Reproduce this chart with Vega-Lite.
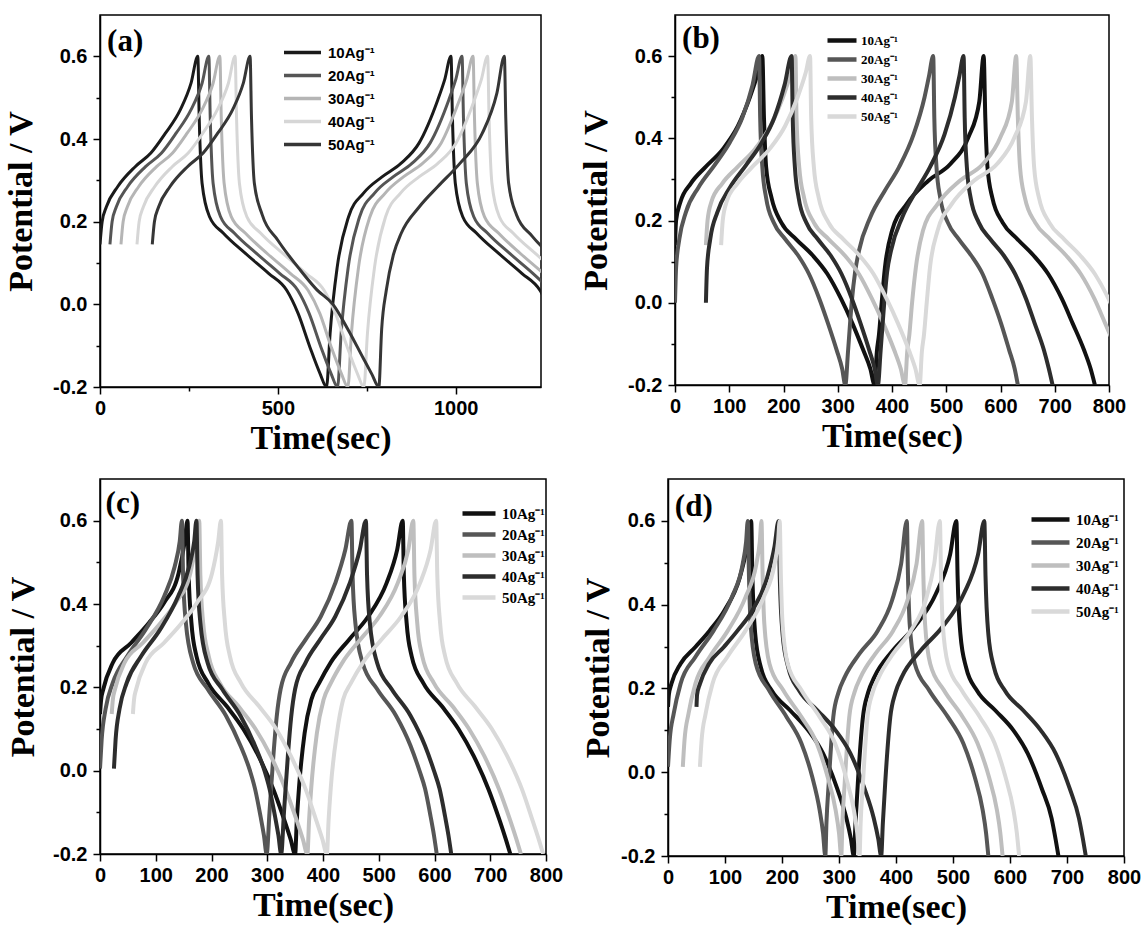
{
"$schema": "https://vega.github.io/schema/vega-lite/v6.json",
"background": "white",
"padding": {"left": 3, "top": 14, "right": 0, "bottom": 0},
"config": {
  "view": {"stroke": "black", "strokeWidth": 1.5},
  "axis": {"grid": false, "domainColor": "black", "domainWidth": 1.5, "tickColor": "black", "tickWidth": 1.5,
           "labelFont": "Liberation Sans", "labelFontWeight": "bold", "labelFontSize": 20, "labelColor": "black",
           "titleFont": "Liberation Serif", "titleFontWeight": "bold", "titleFontSize": 34, "titleColor": "black",
           "labelOverlap": false, "labelFlush": false},
  "axisX": {"labelPadding": 4, "titlePadding": 3},
  "axisY": {"labelPadding": 6, "titlePadding": 14}
},
"datasets": {
"a": [
{"s":10,"t":0,"v":0.145},{"s":10,"t":6,"v":0.2},{"s":10,"t":18,"v":0.236},{"s":10,"t":50,"v":0.285},{"s":10,"t":99,"v":0.333},{"s":10,"t":143,"v":0.366},{"s":10,"t":184,"v":0.414},{"s":10,"t":226,"v":0.471},{"s":10,"t":256,"v":0.535},{"s":10,"t":275,"v":0.6},
{"s":10,"t":279,"v":0.45},{"s":10,"t":287,"v":0.293},{"s":10,"t":308,"v":0.212},{"s":10,"t":347,"v":0.172},{"s":10,"t":409,"v":0.123},{"s":10,"t":474,"v":0.075},{"s":10,"t":525,"v":0.034},{"s":10,"t":557,"v":-0.022},{"s":10,"t":590,"v":-0.103},{"s":10,"t":619,"v":-0.168},{"s":10,"t":637,"v":-0.2},
{"s":10,"t":647,"v":-0.07},{"s":10,"t":667,"v":0.09},{"s":10,"t":699,"v":0.212},{"s":10,"t":741,"v":0.269},{"s":10,"t":794,"v":0.309},{"s":10,"t":846,"v":0.341},{"s":10,"t":897,"v":0.39},{"s":10,"t":950,"v":0.495},{"s":10,"t":969,"v":0.543},{"s":10,"t":987,"v":0.6},
{"s":10,"t":991,"v":0.45},{"s":10,"t":999,"v":0.293},{"s":10,"t":1020,"v":0.212},{"s":10,"t":1059,"v":0.172},{"s":10,"t":1121,"v":0.123},{"s":10,"t":1186,"v":0.075},{"s":10,"t":1237,"v":0.034},{"s":10,"t":1269,"v":-0.022},
{"s":20,"t":28,"v":0.145},{"s":20,"t":34,"v":0.2},{"s":20,"t":46,"v":0.236},{"s":20,"t":78,"v":0.285},{"s":20,"t":128,"v":0.333},{"s":20,"t":173,"v":0.366},{"s":20,"t":214,"v":0.414},{"s":20,"t":256,"v":0.471},{"s":20,"t":287,"v":0.535},{"s":20,"t":306,"v":0.6},
{"s":20,"t":310,"v":0.45},{"s":20,"t":318,"v":0.293},{"s":20,"t":339,"v":0.212},{"s":20,"t":378,"v":0.172},{"s":20,"t":440,"v":0.123},{"s":20,"t":505,"v":0.075},{"s":20,"t":556,"v":0.034},{"s":20,"t":588,"v":-0.022},{"s":20,"t":621,"v":-0.103},{"s":20,"t":650,"v":-0.168},{"s":20,"t":668,"v":-0.2},
{"s":20,"t":678,"v":-0.07},{"s":20,"t":698,"v":0.09},{"s":20,"t":730,"v":0.212},{"s":20,"t":772,"v":0.269},{"s":20,"t":825,"v":0.309},{"s":20,"t":877,"v":0.341},{"s":20,"t":928,"v":0.39},{"s":20,"t":981,"v":0.495},{"s":20,"t":1000,"v":0.543},{"s":20,"t":1018,"v":0.6},
{"s":20,"t":1022,"v":0.45},{"s":20,"t":1030,"v":0.293},{"s":20,"t":1051,"v":0.212},{"s":20,"t":1090,"v":0.172},{"s":20,"t":1152,"v":0.123},{"s":20,"t":1217,"v":0.075},{"s":20,"t":1268,"v":0.034},
{"s":30,"t":59,"v":0.145},{"s":30,"t":65,"v":0.2},{"s":30,"t":77,"v":0.236},{"s":30,"t":109,"v":0.285},{"s":30,"t":159,"v":0.333},{"s":30,"t":204,"v":0.366},{"s":30,"t":245,"v":0.414},{"s":30,"t":287,"v":0.471},{"s":30,"t":318,"v":0.535},{"s":30,"t":337,"v":0.6},
{"s":30,"t":341,"v":0.45},{"s":30,"t":349,"v":0.293},{"s":30,"t":369,"v":0.212},{"s":30,"t":409,"v":0.172},{"s":30,"t":470,"v":0.123},{"s":30,"t":535,"v":0.075},{"s":30,"t":585,"v":0.034},{"s":30,"t":618,"v":-0.022},{"s":30,"t":650,"v":-0.103},{"s":30,"t":679,"v":-0.168},{"s":30,"t":697,"v":-0.2},
{"s":30,"t":707,"v":-0.07},{"s":30,"t":727,"v":0.09},{"s":30,"t":759,"v":0.212},{"s":30,"t":802,"v":0.269},{"s":30,"t":854,"v":0.309},{"s":30,"t":907,"v":0.341},{"s":30,"t":959,"v":0.39},{"s":30,"t":1011,"v":0.495},{"s":30,"t":1031,"v":0.543},{"s":30,"t":1049,"v":0.6},
{"s":30,"t":1053,"v":0.45},{"s":30,"t":1061,"v":0.293},{"s":30,"t":1081,"v":0.212},{"s":30,"t":1121,"v":0.172},{"s":30,"t":1182,"v":0.123},{"s":30,"t":1247,"v":0.075},
{"s":40,"t":104,"v":0.145},{"s":40,"t":110,"v":0.2},{"s":40,"t":122,"v":0.236},{"s":40,"t":154,"v":0.285},{"s":40,"t":203,"v":0.333},{"s":40,"t":248,"v":0.366},{"s":40,"t":289,"v":0.414},{"s":40,"t":330,"v":0.471},{"s":40,"t":361,"v":0.535},{"s":40,"t":380,"v":0.6},
{"s":40,"t":384,"v":0.45},{"s":40,"t":392,"v":0.293},{"s":40,"t":413,"v":0.212},{"s":40,"t":452,"v":0.172},{"s":40,"t":514,"v":0.123},{"s":40,"t":579,"v":0.075},{"s":40,"t":630,"v":0.034},{"s":40,"t":662,"v":-0.022},{"s":40,"t":695,"v":-0.103},{"s":40,"t":724,"v":-0.168},{"s":40,"t":742,"v":-0.2},
{"s":40,"t":752,"v":-0.07},{"s":40,"t":772,"v":0.09},{"s":40,"t":803,"v":0.212},{"s":40,"t":845,"v":0.269},{"s":40,"t":898,"v":0.309},{"s":40,"t":950,"v":0.341},{"s":40,"t":1001,"v":0.39},{"s":40,"t":1053,"v":0.495},{"s":40,"t":1072,"v":0.543},{"s":40,"t":1090,"v":0.6},
{"s":40,"t":1094,"v":0.45},{"s":40,"t":1102,"v":0.293},{"s":40,"t":1123,"v":0.212},{"s":40,"t":1162,"v":0.172},{"s":40,"t":1224,"v":0.123},{"s":40,"t":1289,"v":0.075},
{"s":50,"t":147,"v":0.145},{"s":50,"t":153,"v":0.2},{"s":50,"t":165,"v":0.236},{"s":50,"t":197,"v":0.285},{"s":50,"t":246,"v":0.333},{"s":50,"t":290,"v":0.366},{"s":50,"t":331,"v":0.414},{"s":50,"t":373,"v":0.471},{"s":50,"t":403,"v":0.535},{"s":50,"t":422,"v":0.6},
{"s":50,"t":426,"v":0.45},{"s":50,"t":434,"v":0.293},{"s":50,"t":456,"v":0.217},{"s":50,"t":500,"v":0.155},{"s":50,"t":563,"v":0.083},{"s":50,"t":610,"v":0.035},{"s":50,"t":655,"v":0},{"s":50,"t":700,"v":-0.065},{"s":50,"t":740,"v":-0.13},{"s":50,"t":765,"v":-0.17},{"s":50,"t":784,"v":-0.2},
{"s":50,"t":792,"v":-0.06},{"s":50,"t":805,"v":0.034},{"s":50,"t":825,"v":0.12},{"s":50,"t":847,"v":0.172},{"s":50,"t":898,"v":0.236},{"s":50,"t":950,"v":0.285},{"s":50,"t":1012,"v":0.341},{"s":50,"t":1075,"v":0.414},{"s":50,"t":1116,"v":0.511},{"s":50,"t":1137,"v":0.6},
{"s":50,"t":1141,"v":0.45},{"s":50,"t":1149,"v":0.293},{"s":50,"t":1171,"v":0.217},{"s":50,"t":1215,"v":0.165},{"s":50,"t":1278,"v":0.11}
],
"b": [
{"s":10,"t":0,"v":0.14},{"s":10,"t":2,"v":0.2},{"s":10,"t":10,"v":0.245},{"s":10,"t":29,"v":0.29},{"s":10,"t":56,"v":0.33},{"s":10,"t":89,"v":0.375},{"s":10,"t":116,"v":0.43},{"s":10,"t":138,"v":0.5},{"s":10,"t":153,"v":0.56},{"s":10,"t":161,"v":0.6},
{"s":10,"t":164,"v":0.45},{"s":10,"t":168,"v":0.33},{"s":10,"t":178,"v":0.255},{"s":10,"t":196,"v":0.195},{"s":10,"t":223,"v":0.155},{"s":10,"t":254,"v":0.115},{"s":10,"t":281,"v":0.07},{"s":10,"t":306,"v":0.01},{"s":10,"t":327,"v":-0.05},{"s":10,"t":347,"v":-0.115},{"s":10,"t":360,"v":-0.16},{"s":10,"t":368,"v":-0.2},
{"s":10,"t":372,"v":-0.12},{"s":10,"t":376,"v":-0.077},{"s":10,"t":381,"v":0},{"s":10,"t":387,"v":0.086},{"s":10,"t":400,"v":0.175},{"s":10,"t":427,"v":0.24},{"s":10,"t":467,"v":0.297},{"s":10,"t":508,"v":0.338},{"s":10,"t":541,"v":0.403},{"s":10,"t":561,"v":0.49},{"s":10,"t":569,"v":0.6},
{"s":10,"t":572,"v":0.45},{"s":10,"t":576,"v":0.33},{"s":10,"t":585,"v":0.255},{"s":10,"t":604,"v":0.195},{"s":10,"t":631,"v":0.155},{"s":10,"t":661,"v":0.115},{"s":10,"t":688,"v":0.07},{"s":10,"t":713,"v":0.01},{"s":10,"t":733,"v":-0.05},{"s":10,"t":754,"v":-0.115},{"s":10,"t":766,"v":-0.16},{"s":10,"t":774,"v":-0.2},
{"s":20,"t":0,"v":0},{"s":20,"t":2,"v":0.085},{"s":20,"t":8,"v":0.155},{"s":20,"t":20,"v":0.22},{"s":20,"t":43,"v":0.28},{"s":20,"t":73,"v":0.335},{"s":20,"t":101,"v":0.39},{"s":20,"t":124,"v":0.45},{"s":20,"t":143,"v":0.53},{"s":20,"t":155,"v":0.6},
{"s":20,"t":157,"v":0.45},{"s":20,"t":161,"v":0.33},{"s":20,"t":168,"v":0.255},{"s":20,"t":182,"v":0.195},{"s":20,"t":203,"v":0.155},{"s":20,"t":227,"v":0.115},{"s":20,"t":247,"v":0.07},{"s":20,"t":266,"v":0.01},{"s":20,"t":282,"v":-0.05},{"s":20,"t":298,"v":-0.115},{"s":20,"t":308,"v":-0.16},{"s":20,"t":314,"v":-0.2},
{"s":20,"t":319,"v":-0.117},{"s":20,"t":326,"v":0.005},{"s":20,"t":332,"v":0.075},{"s":20,"t":339,"v":0.126},{"s":20,"t":360,"v":0.208},{"s":20,"t":387,"v":0.273},{"s":20,"t":413,"v":0.33},{"s":20,"t":440,"v":0.41},{"s":20,"t":460,"v":0.5},{"s":20,"t":468,"v":0.55},{"s":20,"t":476,"v":0.6},
{"s":20,"t":478,"v":0.45},{"s":20,"t":482,"v":0.33},{"s":20,"t":489,"v":0.255},{"s":20,"t":503,"v":0.195},{"s":20,"t":523,"v":0.155},{"s":20,"t":546,"v":0.115},{"s":20,"t":567,"v":0.07},{"s":20,"t":585,"v":0.01},{"s":20,"t":601,"v":-0.05},{"s":20,"t":616,"v":-0.115},{"s":20,"t":626,"v":-0.16},{"s":20,"t":632,"v":-0.2},
{"s":30,"t":57,"v":0.14},{"s":30,"t":60,"v":0.2},{"s":30,"t":67,"v":0.245},{"s":30,"t":87,"v":0.29},{"s":30,"t":115,"v":0.33},{"s":30,"t":148,"v":0.375},{"s":30,"t":176,"v":0.43},{"s":30,"t":199,"v":0.5},{"s":30,"t":214,"v":0.56},{"s":30,"t":222,"v":0.6},
{"s":30,"t":224,"v":0.45},{"s":30,"t":229,"v":0.33},{"s":30,"t":238,"v":0.255},{"s":30,"t":256,"v":0.195},{"s":30,"t":283,"v":0.155},{"s":30,"t":313,"v":0.115},{"s":30,"t":339,"v":0.07},{"s":30,"t":363,"v":0.01},{"s":30,"t":384,"v":-0.05},{"s":30,"t":404,"v":-0.115},{"s":30,"t":416,"v":-0.16},{"s":30,"t":424,"v":-0.2},
{"s":30,"t":428,"v":-0.12},{"s":30,"t":432,"v":-0.077},{"s":30,"t":437,"v":0},{"s":30,"t":444,"v":0.086},{"s":30,"t":457,"v":0.175},{"s":30,"t":484,"v":0.24},{"s":30,"t":525,"v":0.297},{"s":30,"t":568,"v":0.338},{"s":30,"t":600,"v":0.403},{"s":30,"t":621,"v":0.49},{"s":30,"t":629,"v":0.6},
{"s":30,"t":632,"v":0.45},{"s":30,"t":636,"v":0.33},{"s":30,"t":645,"v":0.255},{"s":30,"t":664,"v":0.195},{"s":30,"t":691,"v":0.155},{"s":30,"t":721,"v":0.115},{"s":30,"t":748,"v":0.07},{"s":30,"t":773,"v":0.01},{"s":30,"t":793,"v":-0.05},{"s":30,"t":814,"v":-0.115},
{"s":40,"t":57,"v":0},{"s":40,"t":59,"v":0.085},{"s":40,"t":65,"v":0.155},{"s":40,"t":78,"v":0.22},{"s":40,"t":101,"v":0.28},{"s":40,"t":131,"v":0.335},{"s":40,"t":160,"v":0.39},{"s":40,"t":183,"v":0.45},{"s":40,"t":202,"v":0.53},{"s":40,"t":215,"v":0.6},
{"s":40,"t":217,"v":0.45},{"s":40,"t":221,"v":0.33},{"s":40,"t":228,"v":0.255},{"s":40,"t":242,"v":0.195},{"s":40,"t":263,"v":0.155},{"s":40,"t":287,"v":0.115},{"s":40,"t":307,"v":0.07},{"s":40,"t":326,"v":0.01},{"s":40,"t":342,"v":-0.05},{"s":40,"t":358,"v":-0.115},{"s":40,"t":368,"v":-0.16},{"s":40,"t":374,"v":-0.2},
{"s":40,"t":379,"v":-0.117},{"s":40,"t":386,"v":0.005},{"s":40,"t":391,"v":0.075},{"s":40,"t":398,"v":0.126},{"s":40,"t":419,"v":0.208},{"s":40,"t":445,"v":0.273},{"s":40,"t":470,"v":0.33},{"s":40,"t":497,"v":0.41},{"s":40,"t":516,"v":0.5},{"s":40,"t":524,"v":0.55},{"s":40,"t":532,"v":0.6},
{"s":40,"t":534,"v":0.45},{"s":40,"t":538,"v":0.33},{"s":40,"t":545,"v":0.255},{"s":40,"t":560,"v":0.195},{"s":40,"t":581,"v":0.155},{"s":40,"t":606,"v":0.115},{"s":40,"t":627,"v":0.07},{"s":40,"t":647,"v":0.01},{"s":40,"t":663,"v":-0.05},{"s":40,"t":680,"v":-0.115},{"s":40,"t":689,"v":-0.16},{"s":40,"t":696,"v":-0.2},
{"s":50,"t":85,"v":0.14},{"s":50,"t":88,"v":0.2},{"s":50,"t":95,"v":0.245},{"s":50,"t":115,"v":0.29},{"s":50,"t":142,"v":0.33},{"s":50,"t":175,"v":0.375},{"s":50,"t":203,"v":0.43},{"s":50,"t":226,"v":0.5},{"s":50,"t":241,"v":0.56},{"s":50,"t":249,"v":0.6},
{"s":50,"t":251,"v":0.45},{"s":50,"t":256,"v":0.33},{"s":50,"t":265,"v":0.255},{"s":50,"t":283,"v":0.195},{"s":50,"t":310,"v":0.155},{"s":50,"t":340,"v":0.115},{"s":50,"t":366,"v":0.07},{"s":50,"t":390,"v":0.01},{"s":50,"t":411,"v":-0.05},{"s":50,"t":431,"v":-0.115},{"s":50,"t":443,"v":-0.16},{"s":50,"t":451,"v":-0.2},
{"s":50,"t":455,"v":-0.12},{"s":50,"t":459,"v":-0.077},{"s":50,"t":464,"v":0},{"s":50,"t":470,"v":0.086},{"s":50,"t":484,"v":0.175},{"s":50,"t":510,"v":0.24},{"s":50,"t":551,"v":0.297},{"s":50,"t":594,"v":0.338},{"s":50,"t":626,"v":0.403},{"s":50,"t":647,"v":0.49},{"s":50,"t":655,"v":0.6},
{"s":50,"t":658,"v":0.45},{"s":50,"t":662,"v":0.33},{"s":50,"t":671,"v":0.255},{"s":50,"t":690,"v":0.195},{"s":50,"t":717,"v":0.155},{"s":50,"t":747,"v":0.115},{"s":50,"t":774,"v":0.07},{"s":50,"t":799,"v":0.01},{"s":50,"t":819,"v":-0.05}
],
"c": [
{"s":10,"t":0,"v":0.136},{"s":10,"t":2,"v":0.17},{"s":10,"t":6,"v":0.196},{"s":10,"t":23,"v":0.259},{"s":10,"t":56,"v":0.307},{"s":10,"t":88,"v":0.355},{"s":10,"t":115,"v":0.403},{"s":10,"t":141,"v":0.474},{"s":10,"t":152,"v":0.55},{"s":10,"t":157,"v":0.6},
{"s":10,"t":159,"v":0.47},{"s":10,"t":164,"v":0.355},{"s":10,"t":173,"v":0.275},{"s":10,"t":194,"v":0.21},{"s":10,"t":227,"v":0.155},{"s":10,"t":257,"v":0.1},{"s":10,"t":284,"v":0.036},{"s":10,"t":311,"v":-0.045},{"s":10,"t":331,"v":-0.12},{"s":10,"t":342,"v":-0.165},{"s":10,"t":350,"v":-0.2},
{"s":10,"t":353,"v":-0.12},{"s":10,"t":357,"v":-0.04},{"s":10,"t":367,"v":0.09},{"s":10,"t":379,"v":0.17},{"s":10,"t":393,"v":0.21},{"s":10,"t":414,"v":0.26},{"s":10,"t":447,"v":0.315},{"s":10,"t":481,"v":0.37},{"s":10,"t":514,"v":0.45},{"s":10,"t":533,"v":0.53},{"s":10,"t":543,"v":0.6},
{"s":10,"t":545,"v":0.47},{"s":10,"t":550,"v":0.355},{"s":10,"t":559,"v":0.275},{"s":10,"t":580,"v":0.21},{"s":10,"t":613,"v":0.155},{"s":10,"t":643,"v":0.1},{"s":10,"t":670,"v":0.036},{"s":10,"t":697,"v":-0.045},{"s":10,"t":717,"v":-0.12},{"s":10,"t":728,"v":-0.165},{"s":10,"t":736,"v":-0.2},
{"s":20,"t":0,"v":0.005},{"s":20,"t":3,"v":0.075},{"s":20,"t":10,"v":0.148},{"s":20,"t":23,"v":0.211},{"s":20,"t":49,"v":0.275},{"s":20,"t":82,"v":0.339},{"s":20,"t":115,"v":0.418},{"s":20,"t":134,"v":0.49},{"s":20,"t":143,"v":0.55},{"s":20,"t":147,"v":0.6},
{"s":20,"t":149,"v":0.47},{"s":20,"t":154,"v":0.355},{"s":20,"t":167,"v":0.259},{"s":20,"t":193,"v":0.196},{"s":20,"t":226,"v":0.132},{"s":20,"t":252,"v":0.06},{"s":20,"t":269,"v":0},{"s":20,"t":278,"v":-0.043},{"s":20,"t":288,"v":-0.11},{"s":20,"t":294,"v":-0.155},{"s":20,"t":299,"v":-0.2},
{"s":20,"t":304,"v":-0.1},{"s":20,"t":311,"v":0.036},{"s":20,"t":317,"v":0.13},{"s":20,"t":324,"v":0.196},{"s":20,"t":343,"v":0.26},{"s":20,"t":369,"v":0.315},{"s":20,"t":396,"v":0.37},{"s":20,"t":422,"v":0.45},{"s":20,"t":440,"v":0.53},{"s":20,"t":451,"v":0.6},
{"s":20,"t":453,"v":0.47},{"s":20,"t":458,"v":0.355},{"s":20,"t":471,"v":0.259},{"s":20,"t":497,"v":0.196},{"s":20,"t":531,"v":0.132},{"s":20,"t":557,"v":0.06},{"s":20,"t":573,"v":0},{"s":20,"t":583,"v":-0.043},{"s":20,"t":593,"v":-0.11},{"s":20,"t":599,"v":-0.155},{"s":20,"t":604,"v":-0.2},
{"s":30,"t":21,"v":0.136},{"s":30,"t":23,"v":0.17},{"s":30,"t":27,"v":0.196},{"s":30,"t":44,"v":0.259},{"s":30,"t":77,"v":0.307},{"s":30,"t":109,"v":0.355},{"s":30,"t":136,"v":0.403},{"s":30,"t":162,"v":0.474},{"s":30,"t":173,"v":0.55},{"s":30,"t":178,"v":0.6},
{"s":30,"t":180,"v":0.47},{"s":30,"t":185,"v":0.355},{"s":30,"t":195,"v":0.275},{"s":30,"t":215,"v":0.21},{"s":30,"t":248,"v":0.155},{"s":30,"t":279,"v":0.1},{"s":30,"t":306,"v":0.036},{"s":30,"t":333,"v":-0.045},{"s":30,"t":353,"v":-0.12},{"s":30,"t":364,"v":-0.165},{"s":30,"t":372,"v":-0.2},
{"s":30,"t":375,"v":-0.12},{"s":30,"t":379,"v":-0.04},{"s":30,"t":389,"v":0.09},{"s":30,"t":401,"v":0.17},{"s":30,"t":414,"v":0.21},{"s":30,"t":435,"v":0.26},{"s":30,"t":467,"v":0.315},{"s":30,"t":501,"v":0.37},{"s":30,"t":534,"v":0.45},{"s":30,"t":553,"v":0.53},{"s":30,"t":562,"v":0.6},
{"s":30,"t":564,"v":0.47},{"s":30,"t":569,"v":0.355},{"s":30,"t":578,"v":0.275},{"s":30,"t":599,"v":0.21},{"s":30,"t":632,"v":0.155},{"s":30,"t":662,"v":0.1},{"s":30,"t":689,"v":0.036},{"s":30,"t":716,"v":-0.045},{"s":30,"t":736,"v":-0.12},{"s":30,"t":747,"v":-0.165},{"s":30,"t":755,"v":-0.2},
{"s":40,"t":25,"v":0.005},{"s":40,"t":28,"v":0.075},{"s":40,"t":35,"v":0.148},{"s":40,"t":48,"v":0.211},{"s":40,"t":74,"v":0.275},{"s":40,"t":108,"v":0.339},{"s":40,"t":140,"v":0.418},{"s":40,"t":160,"v":0.49},{"s":40,"t":169,"v":0.55},{"s":40,"t":173,"v":0.6},
{"s":40,"t":175,"v":0.47},{"s":40,"t":180,"v":0.355},{"s":40,"t":193,"v":0.259},{"s":40,"t":219,"v":0.196},{"s":40,"t":252,"v":0.132},{"s":40,"t":278,"v":0.06},{"s":40,"t":295,"v":0},{"s":40,"t":304,"v":-0.043},{"s":40,"t":314,"v":-0.11},{"s":40,"t":320,"v":-0.155},{"s":40,"t":325,"v":-0.2},
{"s":40,"t":330,"v":-0.1},{"s":40,"t":337,"v":0.036},{"s":40,"t":343,"v":0.13},{"s":40,"t":350,"v":0.196},{"s":40,"t":369,"v":0.26},{"s":40,"t":395,"v":0.315},{"s":40,"t":422,"v":0.37},{"s":40,"t":448,"v":0.45},{"s":40,"t":466,"v":0.53},{"s":40,"t":477,"v":0.6},
{"s":40,"t":479,"v":0.47},{"s":40,"t":484,"v":0.355},{"s":40,"t":497,"v":0.259},{"s":40,"t":523,"v":0.196},{"s":40,"t":557,"v":0.132},{"s":40,"t":583,"v":0.06},{"s":40,"t":599,"v":0},{"s":40,"t":609,"v":-0.043},{"s":40,"t":619,"v":-0.11},{"s":40,"t":625,"v":-0.155},{"s":40,"t":630,"v":-0.2},
{"s":50,"t":59,"v":0.136},{"s":50,"t":61,"v":0.17},{"s":50,"t":65,"v":0.196},{"s":50,"t":82,"v":0.259},{"s":50,"t":115,"v":0.307},{"s":50,"t":147,"v":0.355},{"s":50,"t":174,"v":0.403},{"s":50,"t":201,"v":0.474},{"s":50,"t":212,"v":0.55},{"s":50,"t":217,"v":0.6},
{"s":50,"t":219,"v":0.47},{"s":50,"t":224,"v":0.355},{"s":50,"t":233,"v":0.275},{"s":50,"t":253,"v":0.21},{"s":50,"t":285,"v":0.155},{"s":50,"t":316,"v":0.1},{"s":50,"t":342,"v":0.036},{"s":50,"t":369,"v":-0.045},{"s":50,"t":388,"v":-0.12},{"s":50,"t":399,"v":-0.165},{"s":50,"t":407,"v":-0.2},
{"s":50,"t":410,"v":-0.12},{"s":50,"t":414,"v":-0.04},{"s":50,"t":425,"v":0.09},{"s":50,"t":436,"v":0.17},{"s":50,"t":450,"v":0.21},{"s":50,"t":472,"v":0.26},{"s":50,"t":505,"v":0.315},{"s":50,"t":540,"v":0.37},{"s":50,"t":574,"v":0.45},{"s":50,"t":593,"v":0.53},{"s":50,"t":603,"v":0.6},
{"s":50,"t":605,"v":0.47},{"s":50,"t":610,"v":0.355},{"s":50,"t":619,"v":0.275},{"s":50,"t":640,"v":0.21},{"s":50,"t":672,"v":0.155},{"s":50,"t":703,"v":0.1},{"s":50,"t":730,"v":0.036},{"s":50,"t":757,"v":-0.045},{"s":50,"t":776,"v":-0.12},{"s":50,"t":787,"v":-0.165},{"s":50,"t":795,"v":-0.2}
],
"d": [
{"s":10,"t":0,"v":0.156},{"s":10,"t":1.5,"v":0.185},{"s":10,"t":6,"v":0.211},{"s":10,"t":22,"v":0.259},{"s":10,"t":48,"v":0.299},{"s":10,"t":73,"v":0.338},{"s":10,"t":99,"v":0.386},{"s":10,"t":126,"v":0.465},{"s":10,"t":139,"v":0.54},{"s":10,"t":146,"v":0.6},
{"s":10,"t":148,"v":0.47},{"s":10,"t":153,"v":0.33},{"s":10,"t":163,"v":0.25},{"s":10,"t":182,"v":0.195},{"s":10,"t":214,"v":0.148},{"s":10,"t":246,"v":0.1},{"s":10,"t":272,"v":0.045},{"s":10,"t":297,"v":-0.04},{"s":10,"t":313,"v":-0.11},{"s":10,"t":321,"v":-0.16},{"s":10,"t":326,"v":-0.2},
{"s":10,"t":329,"v":-0.12},{"s":10,"t":333,"v":-0.027},{"s":10,"t":342,"v":0.132},{"s":10,"t":351,"v":0.19},{"s":10,"t":362,"v":0.227},{"s":10,"t":394,"v":0.29},{"s":10,"t":432,"v":0.346},{"s":10,"t":470,"v":0.426},{"s":10,"t":495,"v":0.52},{"s":10,"t":506,"v":0.6},
{"s":10,"t":508,"v":0.47},{"s":10,"t":513,"v":0.33},{"s":10,"t":523,"v":0.25},{"s":10,"t":542,"v":0.195},{"s":10,"t":574,"v":0.148},{"s":10,"t":606,"v":0.1},{"s":10,"t":631,"v":0.045},{"s":10,"t":656,"v":-0.04},{"s":10,"t":673,"v":-0.11},{"s":10,"t":680,"v":-0.16},{"s":10,"t":685,"v":-0.2},
{"s":20,"t":0,"v":0.013},{"s":20,"t":3,"v":0.077},{"s":20,"t":10,"v":0.14},{"s":20,"t":22,"v":0.211},{"s":20,"t":48,"v":0.275},{"s":20,"t":80,"v":0.338},{"s":20,"t":112,"v":0.418},{"s":20,"t":131,"v":0.497},{"s":20,"t":137,"v":0.55},{"s":20,"t":140,"v":0.6},
{"s":20,"t":142,"v":0.47},{"s":20,"t":145,"v":0.354},{"s":20,"t":154,"v":0.259},{"s":20,"t":177,"v":0.196},{"s":20,"t":208,"v":0.132},{"s":20,"t":234,"v":0.069},{"s":20,"t":253,"v":-0.011},{"s":20,"t":266,"v":-0.09},{"s":20,"t":272,"v":-0.145},{"s":20,"t":276,"v":-0.2},
{"s":20,"t":278,"v":-0.12},{"s":20,"t":282,"v":-0.026},{"s":20,"t":290,"v":0.132},{"s":20,"t":299,"v":0.19},{"s":20,"t":310,"v":0.227},{"s":20,"t":336,"v":0.283},{"s":20,"t":368,"v":0.338},{"s":20,"t":393,"v":0.41},{"s":20,"t":409,"v":0.497},{"s":20,"t":419,"v":0.6},
{"s":20,"t":421,"v":0.47},{"s":20,"t":424,"v":0.354},{"s":20,"t":433,"v":0.259},{"s":20,"t":458,"v":0.196},{"s":20,"t":491,"v":0.132},{"s":20,"t":518,"v":0.069},{"s":20,"t":538,"v":-0.011},{"s":20,"t":552,"v":-0.09},{"s":20,"t":558,"v":-0.145},{"s":20,"t":562,"v":-0.2},
{"s":30,"t":26,"v":0.013},{"s":30,"t":29,"v":0.077},{"s":30,"t":36,"v":0.14},{"s":30,"t":48,"v":0.211},{"s":30,"t":73,"v":0.275},{"s":30,"t":105,"v":0.338},{"s":30,"t":136,"v":0.418},{"s":30,"t":155,"v":0.497},{"s":30,"t":161,"v":0.55},{"s":30,"t":164,"v":0.6},
{"s":30,"t":166,"v":0.47},{"s":30,"t":169,"v":0.354},{"s":30,"t":178,"v":0.259},{"s":30,"t":202,"v":0.196},{"s":30,"t":234,"v":0.132},{"s":30,"t":261,"v":0.069},{"s":30,"t":280,"v":-0.011},{"s":30,"t":294,"v":-0.09},{"s":30,"t":300,"v":-0.145},{"s":30,"t":304,"v":-0.2},
{"s":30,"t":306,"v":-0.12},{"s":30,"t":310,"v":-0.026},{"s":30,"t":318,"v":0.132},{"s":30,"t":327,"v":0.19},{"s":30,"t":338,"v":0.227},{"s":30,"t":364,"v":0.283},{"s":30,"t":395,"v":0.338},{"s":30,"t":420,"v":0.41},{"s":30,"t":436,"v":0.497},{"s":30,"t":446,"v":0.6},
{"s":30,"t":448,"v":0.47},{"s":30,"t":451,"v":0.354},{"s":30,"t":460,"v":0.259},{"s":30,"t":484,"v":0.196},{"s":30,"t":517,"v":0.132},{"s":30,"t":543,"v":0.069},{"s":30,"t":563,"v":-0.011},{"s":30,"t":577,"v":-0.09},{"s":30,"t":583,"v":-0.145},{"s":30,"t":587,"v":-0.2},
{"s":40,"t":50,"v":0.156},{"s":40,"t":51,"v":0.185},{"s":40,"t":56,"v":0.211},{"s":40,"t":72,"v":0.259},{"s":40,"t":98,"v":0.299},{"s":40,"t":122,"v":0.338},{"s":40,"t":148,"v":0.386},{"s":40,"t":174,"v":0.465},{"s":40,"t":187,"v":0.54},{"s":40,"t":194,"v":0.6},
{"s":40,"t":196,"v":0.47},{"s":40,"t":201,"v":0.33},{"s":40,"t":211,"v":0.25},{"s":40,"t":230,"v":0.195},{"s":40,"t":262,"v":0.148},{"s":40,"t":294,"v":0.1},{"s":40,"t":320,"v":0.045},{"s":40,"t":345,"v":-0.04},{"s":40,"t":361,"v":-0.11},{"s":40,"t":369,"v":-0.16},{"s":40,"t":374,"v":-0.2},
{"s":40,"t":377,"v":-0.12},{"s":40,"t":381,"v":-0.027},{"s":40,"t":390,"v":0.132},{"s":40,"t":399,"v":0.19},{"s":40,"t":410,"v":0.227},{"s":40,"t":443,"v":0.29},{"s":40,"t":481,"v":0.346},{"s":40,"t":519,"v":0.426},{"s":40,"t":544,"v":0.52},{"s":40,"t":555,"v":0.6},
{"s":40,"t":557,"v":0.47},{"s":40,"t":562,"v":0.33},{"s":40,"t":572,"v":0.25},{"s":40,"t":591,"v":0.195},{"s":40,"t":623,"v":0.148},{"s":40,"t":654,"v":0.1},{"s":40,"t":680,"v":0.045},{"s":40,"t":705,"v":-0.04},{"s":40,"t":721,"v":-0.11},{"s":40,"t":728,"v":-0.16},{"s":40,"t":733,"v":-0.2},
{"s":50,"t":56,"v":0.013},{"s":50,"t":59,"v":0.077},{"s":50,"t":66,"v":0.14},{"s":50,"t":78,"v":0.211},{"s":50,"t":104,"v":0.275},{"s":50,"t":136,"v":0.338},{"s":50,"t":168,"v":0.418},{"s":50,"t":187,"v":0.497},{"s":50,"t":193,"v":0.55},{"s":50,"t":196,"v":0.6},
{"s":50,"t":198,"v":0.47},{"s":50,"t":201,"v":0.354},{"s":50,"t":210,"v":0.259},{"s":50,"t":234,"v":0.196},{"s":50,"t":266,"v":0.132},{"s":50,"t":293,"v":0.069},{"s":50,"t":312,"v":-0.011},{"s":50,"t":326,"v":-0.09},{"s":50,"t":332,"v":-0.145},{"s":50,"t":336,"v":-0.2},
{"s":50,"t":338,"v":-0.12},{"s":50,"t":342,"v":-0.026},{"s":50,"t":350,"v":0.132},{"s":50,"t":359,"v":0.19},{"s":50,"t":370,"v":0.227},{"s":50,"t":395,"v":0.283},{"s":50,"t":426,"v":0.338},{"s":50,"t":452,"v":0.41},{"s":50,"t":467,"v":0.497},{"s":50,"t":477,"v":0.6},
{"s":50,"t":479,"v":0.47},{"s":50,"t":482,"v":0.354},{"s":50,"t":491,"v":0.259},{"s":50,"t":515,"v":0.196},{"s":50,"t":547,"v":0.132},{"s":50,"t":573,"v":0.069},{"s":50,"t":592,"v":-0.011},{"s":50,"t":606,"v":-0.09},{"s":50,"t":612,"v":-0.145},{"s":50,"t":616,"v":-0.2}
]
},
"vconcat": [
 {"hconcat": [
  {"width": 441, "height": 372,
   "layer": [
    {"data": {"name": "a"},
     "mark": {"type": "line", "interpolate": "monotone", "strokeWidth": 3, "clip": true},
     "encoding": {
      "x": {"field": "t", "type": "quantitative", "scale": {"domain": [0, 1240], "nice": false, "zero": false},
            "axis": {"title": "Time(sec)", "values": [0, 250, 500, 750, 1000], "format": "d",
                     "labelExpr": "datum.value % 500 === 0 ? datum.label : ''",
                     "tickSize": {"condition": {"test": "datum.value % 500 === 0", "value": 7}, "value": 4}}},
      "y": {"field": "v", "type": "quantitative", "scale": {"domain": [-0.2, 0.7], "nice": false, "zero": false},
            "axis": {"title": "Potential / V", "values": [-0.2, -0.1, 0, 0.1, 0.2, 0.3, 0.4, 0.5, 0.6],
                     "labelExpr": "abs(round(datum.value*10)) % 2 === 0 ? replace(format(datum.value, '.1f'), '\u2212', '-') : ''",
                     "tickSize": {"condition": {"test": "abs(round(datum.value*10)) % 2 === 0", "value": 7}, "value": 4}}},
      "color": {"field": "s", "type": "nominal",
                "scale": {"domain": [10, 20, 30, 40, 50], "range": ["#1a1a1a", "#555555", "#b5b5b5", "#d6d6d6", "#363636"]},
                "legend": {"orient": "none", "legendX": 182, "legendY": 30, "title": null, "padding": 0,
                           "symbolType": "stroke", "symbolSize": 1369, "symbolStrokeWidth": 3.5,
                           "labelFont": "Liberation Sans", "labelFontWeight": "bold", "labelFontSize": 15, "labelColor": "black",
                           "labelExpr": "datum.label + 'Ag\u207b\u00b9'", "clipHeight": 15, "rowPadding": 7, "labelOffset": 5}}
     }},
    {"data": {"values": [{}]},
     "mark": {"type": "text", "text": "(a)", "align": "left", "baseline": "middle", "font": "Liberation Serif", "fontWeight": "bold", "fontSize": 31, "color": "black"},
     "encoding": {"x": {"datum": 20}, "y": {"datum": 0.634}}}
   ]},
  {"width": 434, "height": 370,
   "layer": [
    {"data": {"name": "b"},
     "mark": {"type": "line", "interpolate": "monotone", "strokeWidth": 4, "clip": true},
     "encoding": {
      "x": {"field": "t", "type": "quantitative", "scale": {"domain": [0, 800], "nice": false, "zero": false},
            "axis": {"title": "Time(sec)", "values": [0, 50, 100, 150, 200, 250, 300, 350, 400, 450, 500, 550, 600, 650, 700, 750, 800], "format": "d",
                     "labelExpr": "datum.value % 100 === 0 ? datum.label : ''",
                     "tickSize": {"condition": {"test": "datum.value % 100 === 0", "value": 7}, "value": 4}}},
      "y": {"field": "v", "type": "quantitative", "scale": {"domain": [-0.2, 0.7], "nice": false, "zero": false},
            "axis": {"title": "Potential / V", "values": [-0.2, -0.1, 0, 0.1, 0.2, 0.3, 0.4, 0.5, 0.6],
                     "labelExpr": "abs(round(datum.value*10)) % 2 === 0 ? replace(format(datum.value, '.1f'), '\u2212', '-') : ''",
                     "tickSize": {"condition": {"test": "abs(round(datum.value*10)) % 2 === 0", "value": 7}, "value": 4}}},
      "color": {"field": "s", "type": "nominal",
                "scale": {"domain": [10, 20, 30, 40, 50], "range": ["#111111", "#565656", "#bebebe", "#2d2d2d", "#d9d9d9"]},
                "legend": {"orient": "none", "legendX": 150, "legendY": 19, "title": null, "padding": 0,
                           "symbolType": "stroke", "symbolSize": 841, "symbolStrokeWidth": 4.5,
                           "labelFont": "Liberation Serif", "labelFontWeight": "bold", "labelFontSize": 13, "labelColor": "black",
                           "labelExpr": "datum.label + 'Ag\u207b\u00b9'", "clipHeight": 13, "rowPadding": 5, "labelOffset": 2}}
     }},
    {"data": {"values": [{}]},
     "mark": {"type": "text", "text": "(b)", "align": "left", "baseline": "middle", "font": "Liberation Serif", "fontWeight": "bold", "fontSize": 31, "color": "black"},
     "encoding": {"x": {"datum": 13}, "y": {"datum": 0.641}}}
   ]}
 ], "spacing": 36, "resolve": {"scale": {"x": "independent", "y": "independent", "color": "independent"}, "legend": {"color": "independent"}}},
 {"hconcat": [
  {"width": 446, "height": 375,
   "layer": [
    {"data": {"name": "c"},
     "mark": {"type": "line", "interpolate": "monotone", "strokeWidth": 4, "clip": true},
     "encoding": {
      "x": {"field": "t", "type": "quantitative", "scale": {"domain": [0, 800], "nice": false, "zero": false},
            "axis": {"title": "Time(sec)", "values": [0, 50, 100, 150, 200, 250, 300, 350, 400, 450, 500, 550, 600, 650, 700, 750, 800], "format": "d",
                     "labelExpr": "datum.value % 100 === 0 ? datum.label : ''",
                     "tickSize": {"condition": {"test": "datum.value % 100 === 0", "value": 7}, "value": 4}}},
      "y": {"field": "v", "type": "quantitative", "scale": {"domain": [-0.2, 0.7], "nice": false, "zero": false},
            "axis": {"title": "Potential / V", "titlePadding": 12, "values": [-0.2, -0.1, 0, 0.1, 0.2, 0.3, 0.4, 0.5, 0.6],
                     "labelExpr": "abs(round(datum.value*10)) % 2 === 0 ? replace(format(datum.value, '.1f'), '\u2212', '-') : ''",
                     "tickSize": {"condition": {"test": "abs(round(datum.value*10)) % 2 === 0", "value": 7}, "value": 4}}},
      "color": {"field": "s", "type": "nominal",
                "scale": {"domain": [10, 20, 30, 40, 50], "range": ["#111111", "#565656", "#bebebe", "#2d2d2d", "#d9d9d9"]},
                "legend": {"orient": "none", "legendX": 360, "legendY": 27, "title": null, "padding": 0,
                           "symbolType": "stroke", "symbolSize": 1089, "symbolStrokeWidth": 4.5,
                           "labelFont": "Liberation Serif", "labelFontWeight": "bold", "labelFontSize": 15, "labelColor": "black",
                           "labelExpr": "datum.label + 'Ag\u207b\u00b9'", "clipHeight": 15, "rowPadding": 5, "labelOffset": 4}}
     }},
    {"data": {"values": [{}]},
     "mark": {"type": "text", "text": "(c)", "align": "left", "baseline": "middle", "font": "Liberation Serif", "fontWeight": "bold", "fontSize": 31, "color": "black"},
     "encoding": {"x": {"datum": 10}, "y": {"datum": 0.64}}}
   ]},
  {"width": 456, "height": 377,
   "layer": [
    {"data": {"name": "d"},
     "mark": {"type": "line", "interpolate": "monotone", "strokeWidth": 4, "clip": true},
     "encoding": {
      "x": {"field": "t", "type": "quantitative", "scale": {"domain": [0, 800], "nice": false, "zero": false},
            "axis": {"title": "Time(sec)", "values": [0, 50, 100, 150, 200, 250, 300, 350, 400, 450, 500, 550, 600, 650, 700, 750, 800], "format": "d",
                     "labelExpr": "datum.value % 100 === 0 ? datum.label : ''",
                     "tickSize": {"condition": {"test": "datum.value % 100 === 0", "value": 7}, "value": 4}}},
      "y": {"field": "v", "type": "quantitative", "scale": {"domain": [-0.2, 0.7], "nice": false, "zero": false},
            "axis": {"title": "Potential / V", "titlePadding": 5, "values": [-0.2, -0.1, 0, 0.1, 0.2, 0.3, 0.4, 0.5, 0.6],
                     "labelExpr": "abs(round(datum.value*10)) % 2 === 0 ? replace(format(datum.value, '.1f'), '\u2212', '-') : ''",
                     "tickSize": {"condition": {"test": "abs(round(datum.value*10)) % 2 === 0", "value": 7}, "value": 4}}},
      "color": {"field": "s", "type": "nominal",
                "scale": {"domain": [10, 20, 30, 40, 50], "range": ["#111111", "#565656", "#bebebe", "#2d2d2d", "#d9d9d9"]},
                "legend": {"orient": "none", "legendX": 361, "legendY": 33, "title": null, "padding": 0,
                           "symbolType": "stroke", "symbolSize": 1444, "symbolStrokeWidth": 4.5,
                           "labelFont": "Liberation Serif", "labelFontWeight": "bold", "labelFontSize": 15, "labelColor": "black",
                           "labelExpr": "datum.label + 'Ag\u207b\u00b9'", "clipHeight": 15, "rowPadding": 7, "labelOffset": 4}}
     }},
    {"data": {"values": [{}]},
     "mark": {"type": "text", "text": "(d)", "align": "left", "baseline": "middle", "font": "Liberation Serif", "fontWeight": "bold", "fontSize": 31, "color": "black"},
     "encoding": {"x": {"datum": 12}, "y": {"datum": 0.634}}}
   ]}
 ], "spacing": 16, "resolve": {"scale": {"x": "independent", "y": "independent", "color": "independent"}, "legend": {"color": "independent"}}}
],
"spacing": 22,
"resolve": {"scale": {"x": "independent", "y": "independent", "color": "independent"}, "legend": {"color": "independent"}}
}
